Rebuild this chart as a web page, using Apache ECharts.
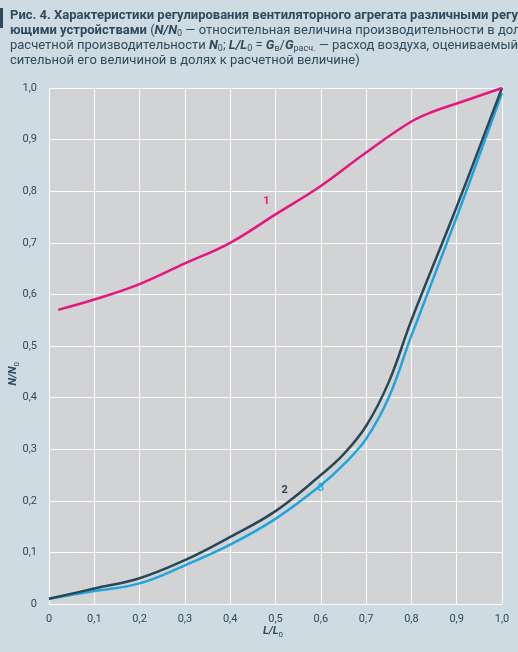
<!DOCTYPE html>
<html><head><meta charset="utf-8">
<script src="https://cdn.jsdelivr.net/npm/echarts@6/dist/echarts.min.js"></script>
<style>html,body{margin:0;padding:0;background:#cfdbe3}#c{width:518px;height:652px}</style>
</head><body><div id="c"></div>
<script>
// данные кривых
var xs1 = [0.02, 0.1, 0.2, 0.3, 0.4, 0.5, 0.6, 0.7, 0.8, 0.85, 0.9, 1.0];
var ys1 = [0.57, 0.59, 0.62, 0.66, 0.70, 0.755, 0.81, 0.875, 0.935, 0.955, 0.97, 1.0];
var xs2 = [0, 0.1, 0.2, 0.3, 0.4, 0.5, 0.6, 0.65, 0.7, 0.75, 0.8, 0.9, 1.0];
var ys2 = [0.01, 0.03, 0.05, 0.085, 0.13, 0.18, 0.25, 0.29, 0.345, 0.43, 0.55, 0.77, 1.0];
var xs3 = [0, 0.1, 0.2, 0.3, 0.4, 0.5, 0.6, 0.65, 0.7, 0.75, 0.8, 0.9, 1.0];
var ys3 = [0.01, 0.025, 0.04, 0.075, 0.115, 0.165, 0.23, 0.27, 0.32, 0.4, 0.52, 0.75, 0.99];
var curveNames = ['1', '2', '3'];
var labelPos = [[0.48, 0.78], [0.52, 0.22], [0.6, 0.225]];

var FONT = '"Liberation Sans Narrow", "Roboto", sans-serif';
var colors = ['#e5177e', '#2a4757', '#1ea5e0'];
function zip(a, b) { return a.map(function (v, i) { return [v, b[i]]; }); }
function fmt(v) { return v === 0 ? '0' : v.toFixed(1).replace('.', ','); }

var chart = echarts.init(document.getElementById('c'));
var txt = {fontFamily: FONT, fontSize: 13, fill: '#2e4a5c'};
chart.setOption({
  backgroundColor: '#cfdbe3',
  textStyle: {fontFamily: FONT},
  graphic: [
    {type: 'rect', left: 0, top: 8, shape: {width: 3, height: 20}, style: {fill: '#2e4a5c'}},
    {type: 'text', left: 10, top: 8, style: {text: '{b|Рис. 4. Характеристики регулирования вентиляторного агрегата различными регулиру-}\n{b|ющими устройствами} ({i|N/N}{s|0} — относительная величина производительности в долях от\nрасчетной производительности {i|N}{s|0}; {i|L/L}{s|0} = {i|G}{s|в}/{i|G}{s|расч.} — расход воздуха, оцениваемый относи-\nсительной его величиной в долях к расчетной величине)',
      fontFamily: FONT, fontSize: 13, lineHeight: 15, fill: '#2e4a5c',
      rich: {b: {fontWeight: 'bold', fontSize: 13, fontFamily: FONT}, i: {fontWeight: 'bold', fontStyle: 'italic', fontSize: 13, fontFamily: FONT}, s: {fontSize: 9, verticalAlign: 'bottom', padding: [6, 0, 0, 0], fontFamily: FONT}}}},
    {type: 'text', left: 263, top: 626, style: {text: '{i|L/L}{s|0}', fill: '#2e4a5c', rich: {i: {fontWeight: 'bold', fontStyle: 'italic', fontSize: 11, fontFamily: FONT}, s: {fontSize: 8, padding: [6, 0, 0, 0], fontFamily: FONT}}}},
    {type: 'text', left: 8, top: 362, rotation: Math.PI / 2, style: {text: '{i|N/N}{s|0}', fill: '#2e4a5c', rich: {i: {fontWeight: 'bold', fontStyle: 'italic', fontSize: 11, fontFamily: FONT}, s: {fontSize: 8, padding: [6, 0, 0, 0], fontFamily: FONT}}}}
  ],
  grid: {left: 49, right: 16, top: 88, bottom: 48, backgroundColor: '#d2d3d5', show: true, borderWidth: 0},
  xAxis: {type: 'value', min: 0, max: 1, interval: 0.1,
    axisLine: {show: false}, axisTick: {show: false},
    splitLine: {lineStyle: {color: '#ffffff', width: 1}},
    axisLabel: {formatter: fmt, color: '#2e4a5c', fontSize: 11, fontFamily: FONT, margin: 10}},
  yAxis: {type: 'value', min: 0, max: 1, interval: 0.1,
    axisLine: {show: false}, axisTick: {show: false},
    splitLine: {lineStyle: {color: '#ffffff', width: 1}},
    axisLabel: {formatter: fmt, color: '#2e4a5c', fontSize: 11, fontFamily: FONT, margin: 12}},
  series: [[xs1, ys1], [xs2, ys2], [xs3, ys3]].map(function (d, i) {
    return {type: 'line', name: curveNames[i], data: zip(d[0], d[1]), smooth: 0.4, showSymbol: false,
      lineStyle: {color: colors[i], width: 2.5}, z: 3 - i,
      markPoint: {symbol: 'circle', symbolSize: 0, data: [{coord: labelPos[i], label: {show: true, formatter: curveNames[i], color: colors[i], fontWeight: 'bold', fontSize: 11, fontFamily: FONT}}]}};
  })
});
</script></body></html>
